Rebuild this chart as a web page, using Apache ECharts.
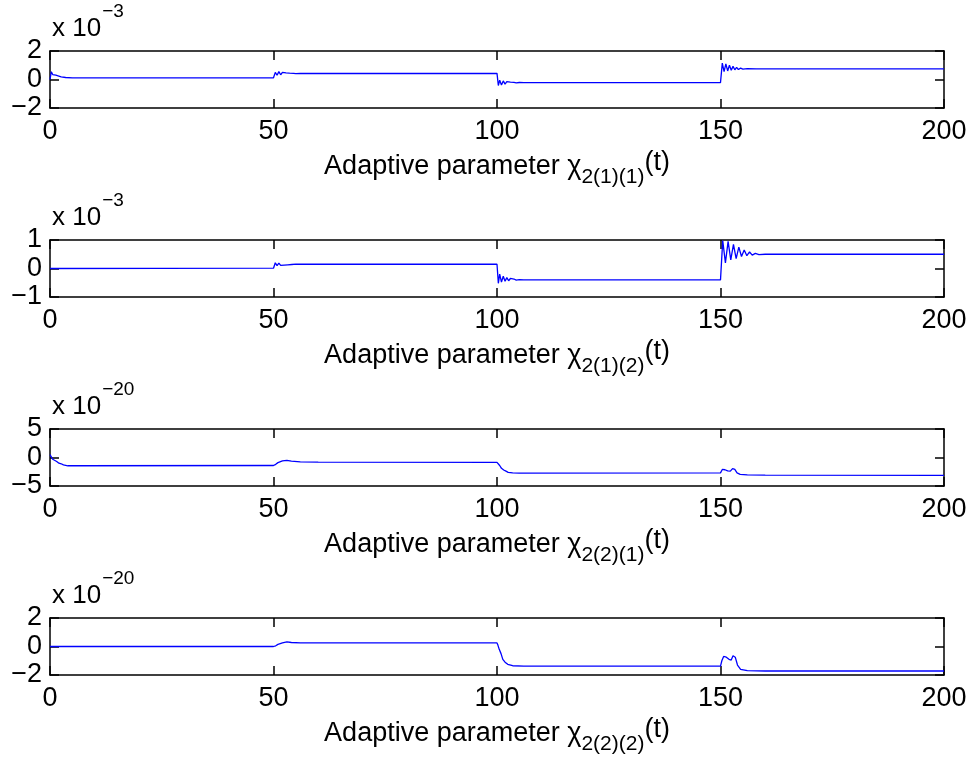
<!DOCTYPE html>
<html><head><meta charset="utf-8">
<script src="https://cdn.jsdelivr.net/npm/echarts@6/dist/echarts.min.js"></script>
<style>html,body{margin:0;padding:0;background:#fff}#c{width:974px;height:764px}</style>
</head><body><div id="c"></div>
<script>
// ---- data (values in units of the axis multiplier shown above each plot) ----
const xTicks = [0, 50, 100, 150, 200];
const subLabels = ['2(1)(1)', '2(1)(2)', '2(2)(1)', '2(2)(2)'];
const exponents = ['\u22123', '\u22123', '\u221220', '\u221220'];
const yTicks1 = [-2, 0, 2];
const yTicks2 = [-1, 0, 1];
const yTicks3 = [-5, 0, 5];
const yTicks4 = [-2, 0, 2];

// chi_2(1)(1), x 1e-3
const t1 = [0,0.3,0.6,0.9,1.3,1.8,2.5,3.5,5,7,50,50.4,50.8,51.2,51.6,52,52.4,52.8,53.2,53.6,54,54.5,55,56,58,100,100.3,100.6,101,101.4,101.8,102.2,102.6,103,103.4,103.8,104.3,105,106,108,150,150.4,150.8,151.2,151.6,152,152.4,152.8,153.2,153.6,154,154.5,155,156,158,200];
const v1 = [0,0.55,0.35,0.45,0.3,0.25,0.18,0.14,0.12,0.12,0.12,0.5,0.3,0.55,0.33,0.5,0.36,0.47,0.38,0.45,0.39,0.43,0.41,0.42,0.42,0.43,-0.42,-0.05,-0.38,-0.1,-0.32,-0.15,-0.28,-0.18,-0.25,-0.2,-0.23,-0.21,-0.22,-0.22,-0.22,1.15,0.55,1.1,0.6,1.0,0.65,0.92,0.68,0.85,0.7,0.8,0.73,0.76,0.75,0.75];

// chi_2(1)(2), x 1e-3
const t2 = [0,50,50.4,50.8,51.2,51.6,52,52.4,52.8,53.2,53.6,54.1,55,57,100,100.3,100.6,101,101.4,101.8,102.2,102.6,103,103.4,103.8,104.3,105,106,108,150,150.5,151.1,151.7,152.3,152.9,153.5,154.1,154.7,155.3,155.9,156.5,157.1,157.8,158.6,160,200];
const v2 = [0,0.01,0.2,0.1,0.19,0.11,0.18,0.12,0.17,0.13,0.16,0.14,0.15,0.15,0.15,-0.52,-0.2,-0.48,-0.27,-0.45,-0.32,-0.43,-0.35,-0.42,-0.37,-0.41,-0.39,-0.4,-0.4,-0.4,0.98,0.2,0.95,0.3,0.85,0.35,0.75,0.42,0.65,0.45,0.58,0.47,0.53,0.49,0.5,0.5];

// chi_2(2)(1), x 1e-20
const t3 = [0,0.3,0.6,1,1.5,2,2.5,3,4,6,50,50.5,51,52,53,54,56,60,100,100.3,100.6,101,101.5,102,102.5,103.5,105,150,150.4,151,151.6,152.2,152.7,153.2,153.7,154.4,156,160,200];
const v3 = [0.5,0.2,-0.3,-0.6,-0.7,-1.0,-1.1,-1.3,-1.45,-1.45,-1.4,-1.2,-0.9,-0.6,-0.5,-0.65,-0.75,-0.8,-0.85,-1.1,-1.4,-1.9,-2.2,-2.4,-2.6,-2.7,-2.75,-2.7,-2.1,-2.15,-2.35,-2.4,-1.95,-2.1,-2.7,-2.95,-3.05,-3.1,-3.15];

// chi_2(2)(2), x 1e-20
const t4 = [0,50,50.5,51,52,53,54,56,100,100.2,100.5,100.9,101.3,101.8,102.4,103.5,106,150,150.3,150.7,151.3,151.9,152.4,152.8,153.3,153.8,154.5,156,160,200];
const v4 = [0,0,0.05,0.15,0.25,0.32,0.28,0.25,0.25,0.1,-0.2,-0.5,-0.9,-1.1,-1.25,-1.35,-1.38,-1.38,-1.0,-0.7,-0.75,-0.9,-0.95,-0.65,-0.75,-1.3,-1.6,-1.7,-1.72,-1.72];

const ts = [t1, t2, t3, t4];
const vs = [v1, v2, v3, v4];
const yTicks = [yTicks1, yTicks2, yTicks3, yTicks4];

// ---- layout ----
const FONT = '"Liberation Sans", Arial, Helvetica, sans-serif';
const FS = 27;
const L = 50, R = 944, TOPS = [51, 240, 429, 618], H = 57;
const fmt = v => v === 0 ? '0' : (v < 0 ? '\u2212' + Math.abs(v) : String(v));

const grids = [], xAxes = [], yAxes = [], series = [], graphics = [];
const ctx = document.createElement('canvas').getContext('2d');
function tw(text, size) { ctx.font = size + 'px ' + FONT; return ctx.measureText(text).width; }
function txt(text, x, y, size) {
  return { type: 'text', x: x, y: y, silent: true,
    style: { text: text, font: size + 'px ' + FONT, fill: '#000', textVerticalAlign: 'middle', textAlign: 'left' } };
}

for (let i = 0; i < 4; i++) {
  grids.push({ left: L, width: R - L, top: TOPS[i], height: H, containLabel: false });
  const axLine = { show: true, onZero: false, lineStyle: { color: '#000', width: 1.5 } };
  const tick = { show: true, inside: true, length: 9, lineStyle: { color: '#000', width: 1.5 } };
  xAxes.push({ type: 'value', gridIndex: i, min: 0, max: 200, interval: 50, position: 'bottom',
    axisLine: axLine, axisTick: tick, splitLine: { show: false },
    axisLabel: { show: true, margin: 10, color: '#000', fontSize: FS, fontFamily: FONT, formatter: fmt } });
  xAxes.push({ type: 'value', gridIndex: i, min: 0, max: 200, interval: 50, position: 'top',
    axisLine: axLine, axisTick: tick, splitLine: { show: false }, axisLabel: { show: false } });
  const yt = yTicks[i];
  const iv = yt[1] - yt[0];
  yAxes.push({ type: 'value', gridIndex: i, min: yt[0], max: yt[yt.length - 1], interval: iv, position: 'left',
    axisLine: axLine, axisTick: tick, splitLine: { show: false },
    axisLabel: { show: true, margin: 8, color: '#000', fontSize: FS, fontFamily: FONT, formatter: fmt } });
  yAxes.push({ type: 'value', gridIndex: i, min: yt[0], max: yt[yt.length - 1], interval: iv, position: 'right',
    axisLine: axLine, axisTick: tick, splitLine: { show: false }, axisLabel: { show: false } });
  series.push({ type: 'line', xAxisIndex: 2 * i, yAxisIndex: 2 * i, showSymbol: false, symbol: 'none',
    animation: false, lineStyle: { color: '#0000ff', width: 1.3 },
    data: ts[i].map((t, k) => [t, vs[i][k]]) });

  // exponent label
  const top = TOPS[i];
  const w10 = tw('x 10', FS - 1);
  graphics.push(txt('x 10', 52, top - 22, FS - 1));
  graphics.push(txt(exponents[i], 52 + w10 + 1, top - 39, 19));

  // axis title
  const bottom = top + H;
  const p1 = 'Adaptive parameter ', p2 = '\u03c7', p3 = subLabels[i], p4 = '(t)';
  const w1 = tw(p1, FS), w2 = tw(p2, FS), w3 = tw(p3, 21), w4 = tw(p4, FS);
  const total = w1 + w2 + w3 + w4;
  let x0 = (L + R) / 2 - total / 2;
  const ym = bottom + 59;
  graphics.push(txt(p1, x0, ym, FS)); x0 += w1;
  graphics.push(txt(p2, x0, ym, FS)); x0 += w2;
  graphics.push(txt(p3, x0, ym + 10, 21)); x0 += w3;
  graphics.push(txt(p4, x0, ym - 4, FS));
}

const chart = echarts.init(document.getElementById('c'), null, { renderer: 'canvas' });
chart.setOption({
  animation: false,
  backgroundColor: '#fff',
  grid: grids, xAxis: xAxes, yAxis: yAxes, series: series,
  graphic: graphics
});
</script></body></html>
